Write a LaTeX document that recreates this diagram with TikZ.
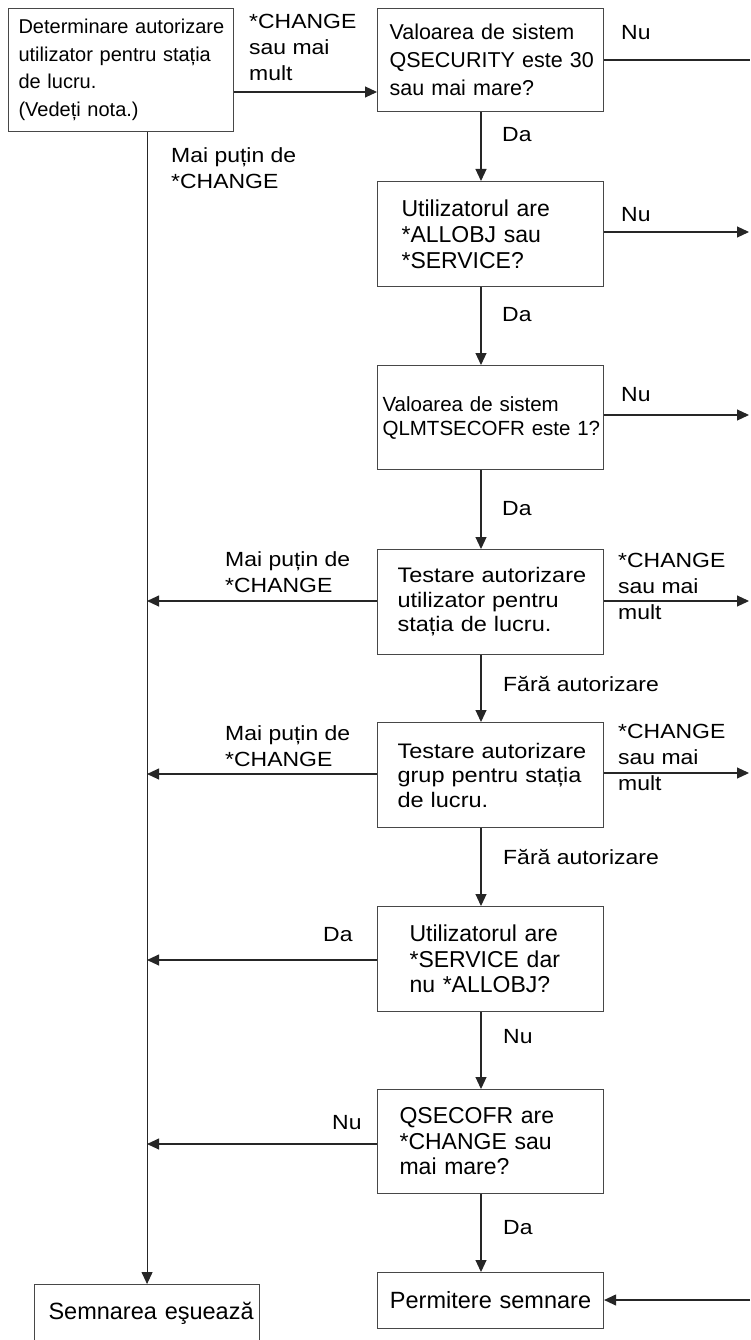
\documentclass[tikz,border=0pt]{standalone}
\usepackage{fontspec}
\setmainfont{Liberation Sans}
\newfontfamily\widef[FakeStretch=1.12]{Liberation Sans}
\usetikzlibrary{arrows.meta}
\hyphenpenalty=10000
\exhyphenpenalty=10000
\lefthyphenmin=62
\righthyphenmin=62
\begin{document}
\begin{tikzpicture}[x=1pt,y=-1pt,
  box/.style={draw=black!72, line width=1.1pt, anchor=north west, inner ysep=0pt, align=left},
  arr/.style={draw=black!85, line width=1.1pt, -{Triangle[length=12pt,width=11pt]}},
  ln/.style={draw=black!85, line width=1.1pt},
  lab/.style={anchor=west, inner sep=0pt, align=left, font=\widef\fontsize{20.5}{26}\selectfont}]
\fill[white] (0,0) rectangle (750,1340);
\useasboundingbox (0,0) rectangle (750,1340);

% boxes
\node[box, minimum width=225pt, minimum height=123pt, text width=205pt, inner xsep=10pt,
  font=\fontsize{20}{27.5}\selectfont] (A) at (8,8)
  {\mbox{Determinare autorizare}\\{}\mbox{utilizator pentru stația}\\{}\mbox{de lucru.}\\{}\mbox{(Vedeți nota.)}};
\node[box, minimum width=226pt, minimum height=103pt, text width=202pt, inner xsep=12pt,
  font=\fontsize{21.5}{28}\selectfont] (B1) at (377,8)
  {\mbox{Valoarea de sistem}\\{}\mbox{QSECURITY este 30}\\{}\mbox{sau mai mare?}};
\node[box, minimum width=226pt, minimum height=105pt, text width=178pt, inner xsep=24pt,
  font=\fontsize{23}{26}\selectfont] (B2) at (377,181)
  {\mbox{Utilizatorul are}\\{}\mbox{*ALLOBJ sau}\\{}\mbox{*SERVICE?}};
\node[box, minimum width=226pt, minimum height=104pt, text width=216pt, inner xsep=5pt,
  font=\fontsize{20.5}{24}\selectfont] (B3) at (377,365)
  {\mbox{Valoarea de sistem}\\{}\mbox{QLMTSECOFR este 1?}};
\node[box, minimum width=226pt, minimum height=105pt, text width=186pt, inner xsep=20pt,
  font=\widef\fontsize{21}{24.5}\selectfont] (B4) at (377,549)
  {\mbox{Testare autorizare}\\{}\mbox{utilizator pentru}\\{}\mbox{stația de lucru.}};
\node[box, minimum width=226pt, minimum height=105pt, text width=186pt, inner xsep=20pt,
  font=\widef\fontsize{21}{24.5}\selectfont] (B5) at (377,722)
  {\mbox{Testare autorizare}\\{}\mbox{grup pentru stația}\\{}\mbox{de lucru.}};
\node[box, minimum width=226pt, minimum height=105pt, text width=162pt, inner xsep=32pt,
  font=\fontsize{23}{25.5}\selectfont] (B6) at (377,906)
  {\mbox{Utilizatorul are}\\{}\mbox{*SERVICE dar}\\{}\mbox{nu *ALLOBJ?}};
\node[box, minimum width=226pt, minimum height=104pt, text width=182pt, inner xsep=22pt,
  font=\fontsize{23}{25.5}\selectfont] (B7) at (377,1089)
  {\mbox{QSECOFR are}\\{}\mbox{*CHANGE sau}\\{}\mbox{mai mare?}};
\node[box, minimum width=226pt, minimum height=56pt, text width=220pt, inner xsep=3pt, align=center,
  font=\fontsize{23.5}{26}\selectfont] (B8) at (377,1272)
  {\mbox{Permitere semnare}};
\node[box, minimum width=225pt, minimum height=58pt, text width=197pt, inner xsep=14pt,
  font=\fontsize{23.5}{26}\selectfont] (F) at (34,1284)
  {\mbox{Semnarea eşuează}};

% right-edge coordinates
\coordinate (E1) at (750,60);
\coordinate (E2) at (749,232);
\coordinate (E3) at (749,415);
\coordinate (E4) at (749,601);
\coordinate (E5) at (749,773);
\coordinate (E8) at (750,1300);

% connectors
\draw[arr] (A.east |- 0,92) -- (B1.west |- 0,92);
\draw[arr] (F.north |- A.south) -- (F.north);
\draw[ln] (B1.east |- E1) -- (E1);
\draw[arr] (B1.south -| 481,0) -- (B2.north -| 481,0);
\draw[arr] (B2.east |- E2) -- (E2);
\draw[arr] (B2.south -| 481,0) -- (B3.north -| 481,0);
\draw[arr] (B3.east |- E3) -- (E3);
\draw[arr] (B3.south -| 481,0) -- (B4.north -| 481,0);
\draw[arr] (B4.west |- 0,601) -- (F.north |- 0,601);
\draw[arr] (B4.east |- E4) -- (E4);
\draw[arr] (B4.south -| 481,0) -- (B5.north -| 481,0);
\draw[arr] (B5.west |- 0,774) -- (F.north |- 0,774);
\draw[arr] (B5.east |- E5) -- (E5);
\draw[arr] (B5.south -| 481,0) -- (B6.north -| 481,0);
\draw[arr] (B6.west |- 0,960) -- (F.north |- 0,960);
\draw[arr] (B6.south -| 481,0) -- (B7.north -| 481,0);
\draw[arr] (B7.west |- 0,1144) -- (F.north |- 0,1144);
\draw[arr] (B7.south -| 481,0) -- (B8.north -| 481,0);
\draw[arr] (E8) -- (B8.east |- E8);

% labels
\node[lab] (l1) at (249,47) {*CHANGE\\{}sau mai\\{}mult};
\node[lab] (l2) at (171,168.5) {Mai puțin de\\{}*CHANGE};
\node[lab] (l3) at (621,33) {Nu};
\node[lab] (l4) at (502,135) {Da};
\node[lab] (l5) at (621,215) {Nu};
\node[lab] (l6) at (502,315) {Da};
\node[lab] (l7) at (621,395) {Nu};
\node[lab] (l8) at (502,509) {Da};
\node[lab] (l9) at (225,572) {Mai puțin de\\{}*CHANGE};
\node[lab] (l10) at (618,586) {*CHANGE\\{}sau mai\\{}mult};
\node[lab] (l11) at (503,684) {Fără autorizare};
\node[lab] (l12) at (225,746) {Mai puțin de\\{}*CHANGE};
\node[lab] (l13) at (618,757) {*CHANGE\\{}sau mai\\{}mult};
\node[lab] (l14) at (503,857) {Fără autorizare};
\node[lab] (l15) at (323,935) {Da};
\node[lab] (l16) at (503,1037) {Nu};
\node[lab] (l17) at (332,1123) {Nu};
\node[lab] (l18) at (503,1228) {Da};
\end{tikzpicture}
\end{document}
